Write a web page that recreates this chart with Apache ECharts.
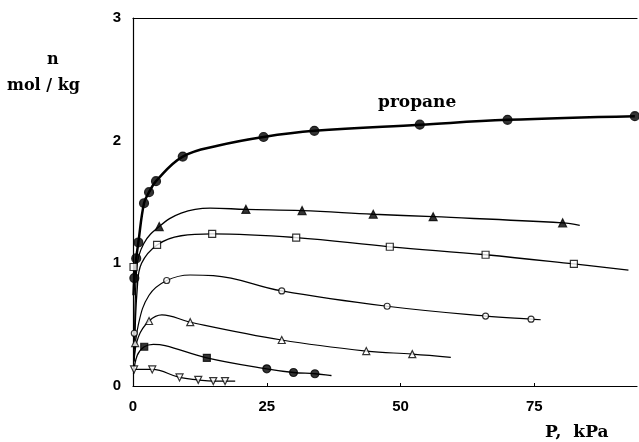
<!DOCTYPE html>
<html>
<head>
<meta charset="utf-8">
<script src="https://cdn.jsdelivr.net/npm/echarts@6/dist/echarts.min.js"></script>
<style>
  html, body { margin: 0; padding: 0; background: #fff; }
  #chart { width: 639px; height: 442px; }
</style>
</head>
<body>
<div id="chart"></div>
<script>
// axis ticks
const xTicks = [0, 25, 50, 75]
const yTicks = [0, 1, 2, 3]

// curves (P kPa, n mol/kg)
const propaneCurve = [[0.1, 0.74], [0.25, 0.88], [0.6, 1.04], [1.0, 1.17], [2.06, 1.49], [3.0, 1.58], [4.3, 1.67], [9.3, 1.87], [16, 1.96], [24.4, 2.03], [33.9, 2.08], [53.6, 2.13], [70, 2.17], [93.8, 2.2]]
const filledTriCurve = [[0.3, 0.3], [0.7, 0.96], [2, 1.16], [4.9, 1.30], [9, 1.41], [14.4, 1.45], [21.1, 1.44], [31.6, 1.43], [44.9, 1.40], [56.1, 1.38], [80.3, 1.33], [83.5, 1.31]]
const openSqCurve = [[0.3, 0.3], [0.8, 0.8], [1.6, 1.0], [4.5, 1.15], [9, 1.225], [14.8, 1.24], [30.5, 1.21], [48, 1.135], [65.9, 1.07], [82.4, 0.995], [92.6, 0.945]]
const openCircCurve = [[0.2, 0.2], [1, 0.5], [3, 0.74], [6.3, 0.86], [10.7, 0.905], [15, 0.9], [27.8, 0.775], [47.5, 0.65], [65.9, 0.57], [74.4, 0.545], [76.2, 0.54]]
const openTriCurve = [[0.2, 0.2], [1, 0.4], [3, 0.53], [5.4, 0.58], [10.7, 0.52], [27.8, 0.375], [43.6, 0.285], [52.2, 0.26], [59.4, 0.234]]
const filledSqCurve = [[0.1, 0.1], [0.8, 0.25], [2.1, 0.32], [3.8, 0.34], [6, 0.33], [13.8, 0.23], [25, 0.14], [30, 0.11], [34, 0.10], [37.1, 0.085]]
const invTriCurve = [[0.2, 0.135], [3.6, 0.135], [8.7, 0.07], [12.2, 0.05], [15, 0.04], [17.2, 0.04], [19.1, 0.04]]

// measured points
const propanePts = [[0.25, 0.88], [0.6, 1.04], [1.0, 1.17], [2.06, 1.49], [3.0, 1.58], [4.3, 1.67], [9.3, 1.87], [24.4, 2.03], [33.9, 2.08], [53.6, 2.13], [70, 2.17], [93.8, 2.2]]
const filledTriPts = [[4.9, 1.30], [21.1, 1.44], [31.6, 1.43], [44.9, 1.40], [56.1, 1.38], [80.3, 1.33]]
const openSqPts = [[0.1, 0.97], [4.5, 1.15], [14.8, 1.24], [30.5, 1.21], [48, 1.135], [65.9, 1.07], [82.4, 0.995]]
const openCircPts = [[0.25, 0.43], [6.3, 0.86], [27.8, 0.775], [47.5, 0.65], [65.9, 0.57], [74.4, 0.545]]
const openTriPts = [[0.4, 0.35], [3, 0.53], [10.7, 0.52], [27.8, 0.375], [43.6, 0.285], [52.2, 0.26]]
const filledSqPts = [[2.1, 0.32], [13.8, 0.23]]
const filledDotPts = [[25, 0.14], [30, 0.11], [34, 0.10]]
const invTriPts = [[0.2, 0.135], [3.6, 0.135], [8.7, 0.07], [12.2, 0.05], [15, 0.04], [17.2, 0.04]]

const tickFont = { fontFamily: 'Liberation Sans', fontWeight: 'bold', fontSize: 15, color: '#000' }
const titleFont = { fontFamily: 'DejaVu Serif', fontWeight: 'bold', fill: '#000' }

function curve(data, width) {
  return {
    type: 'line', data: data, smooth: 0.4,
    showSymbol: false, silent: true,
    lineStyle: { color: '#000', width: width }
  }
}
function pts(data, symbol, size, filled, rotate) {
  return {
    type: 'scatter', data: data, symbol: symbol, symbolSize: size,
    symbolRotate: rotate || 0, z: 5,
    itemStyle: { color: filled ? '#000' : '#fff', borderColor: '#000', borderWidth: 1.2 }
  }
}

const chart = echarts.init(document.getElementById('chart'))
chart.setOption({
  animation: false,
  grid: { left: 133, right: 2, top: 18, bottom: 56 },
  xAxis: [{
    type: 'value', min: 0, max: 94.2, interval: 25,
    axisLine: { lineStyle: { color: '#000', width: 1.2 } },
    axisTick: { inside: true, length: 3, lineStyle: { color: '#000' } },
    axisLabel: Object.assign({ margin: 13, showMaxLabel: false,
      formatter: v => xTicks.includes(v) ? String(v) : '' }, tickFont),
    splitLine: { show: false }
  }, {
    type: 'value', position: 'top', min: 0, max: 94.2,
    axisLine: { show: true, lineStyle: { color: '#000', width: 1.2 } },
    axisTick: { show: false }, axisLabel: { show: false }, splitLine: { show: false }
  }],
  yAxis: {
    type: 'value', min: 0, max: 3, interval: 1,
    axisLine: { show: true, lineStyle: { color: '#000', width: 1.2 } },
    axisTick: { show: false },
    axisLabel: Object.assign({ margin: 12,
      formatter: v => yTicks.includes(v) ? String(v) : '' }, tickFont),
    splitLine: { show: false }
  },
  graphic: [
    { type: 'text', left: 47, top: 52, style: Object.assign({ text: 'n', fontSize: 16 }, titleFont) },
    { type: 'text', left: 7, top: 78, style: Object.assign({ text: 'mol / kg', fontSize: 16 }, titleFont) },
    { type: 'text', left: 378, top: 94, style: Object.assign({ text: 'propane', fontSize: 17 }, titleFont) },
    { type: 'text', left: 545, top: 424, style: Object.assign({ text: 'P,  kPa', fontSize: 17 }, titleFont) }
  ],
  series: [
    curve(propaneCurve, 2.5),
    curve(filledTriCurve, 1.3),
    curve(openSqCurve, 1.3),
    curve(openCircCurve, 1.2),
    curve(openTriCurve, 1.2),
    curve(filledSqCurve, 1.3),
    curve(invTriCurve, 1.2),
    pts(propanePts, 'circle', 9, true),
    pts(filledTriPts, 'triangle', 8, true),
    pts(openSqPts, 'rect', 7, false),
    pts(openCircPts, 'circle', 6, false),
    pts(openTriPts, 'triangle', 7, false),
    pts(filledSqPts, 'rect', 7, true),
    pts(filledDotPts, 'circle', 8, true),
    pts(invTriPts, 'triangle', 7, false, 180)
  ]
})
</script>
</body>
</html>
